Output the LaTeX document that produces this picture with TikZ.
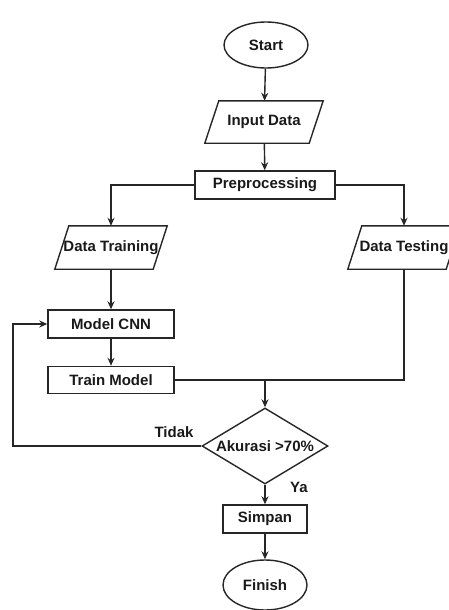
\documentclass[tikz,border=0pt]{standalone}
\usepackage{fontspec}
\setmainfont{Liberation Sans}
\usetikzlibrary{shapes.geometric,arrows.meta}
\begin{document}
\begin{tikzpicture}[x=1pt,y=-1pt,
  every node/.style={font=\fontsize{15}{18}\selectfont\bfseries, text=black!90},
  base/.style={draw=black!85, line width=1.4pt, inner sep=0pt, align=center},
  term/.style={base, ellipse, minimum width=84pt, minimum height=46pt},
  proc/.style={base, rectangle, minimum height=28pt},
  io/.style={rectangle, inner sep=0pt, minimum height=42pt},
  dec/.style={base, diamond, aspect=1.66, minimum width=126pt, minimum height=76pt},
  conn/.style={draw=black!85, line width=1.4pt, -{Stealth[length=8pt,width=7pt]}},
  line/.style={draw=black!85, line width=1.4pt},
  lbl/.style={inner sep=0pt}
]
\useasboundingbox (0,0) rectangle (449,610);
\clip (0,0) rectangle (449,610);
% nodes
\node[term] (start) at (266,45) {Start};
\node[io, minimum width=118pt] (input) at (264,122) {Input Data};
\node[proc, minimum width=140pt] (pre) at (265,185) {Preprocessing};
\node[io, minimum width=112pt, minimum height=43pt] (dtrain) at (111,247.5) {Data Training};
\node[io, minimum width=112pt, minimum height=43pt] (dtest) at (404,247.5) {Data Testing};
\node[proc, minimum width=126pt] (cnn) at (111,324) {Model CNN};
\node[proc, minimum width=126pt, minimum height=27pt] (train) at (111,380) {Train Model};
\coordinate (join) at (265,380);
\node[dec] (acc) at (265,446) {Akurasi >70\%};
\node[proc, minimum width=84pt] (simpan) at (265,519) {Simpan};
\node[term, minimum height=50pt] (finish) at (265,585) {Finish};
\coordinate (loop) at (13,446);
\node[lbl] (tidak) at (174,432) {Tidak};
\node[lbl] (ya) at (299,487) {Ya};
% parallelogram outlines
\foreach \n in {input,dtrain,dtest}{
  \draw[line] ([xshift=14pt]\n.north west) -- (\n.north east)
    -- ([xshift=-14pt]\n.south east) -- (\n.south west) -- cycle;
}
% connectors
\draw[conn] (start) -- (input);
\draw[conn] (input) -- (pre);
\draw[conn] (pre.west) -| (dtrain.north);
\draw[conn] (pre.east) -| (dtest.north);
\draw[conn] (dtrain) -- (cnn);
\draw[conn] (cnn) -- (train);
\draw[line] (train.east) -- (join);
\draw[line] (dtest.south) |- (join);
\draw[conn] (join) -- (acc.north);
\draw[conn] (acc.west) -- (loop) |- (cnn.west);
\draw[conn] (acc.south) -- (simpan);
\draw[conn] (simpan) -- (finish);
\end{tikzpicture}
\end{document}
